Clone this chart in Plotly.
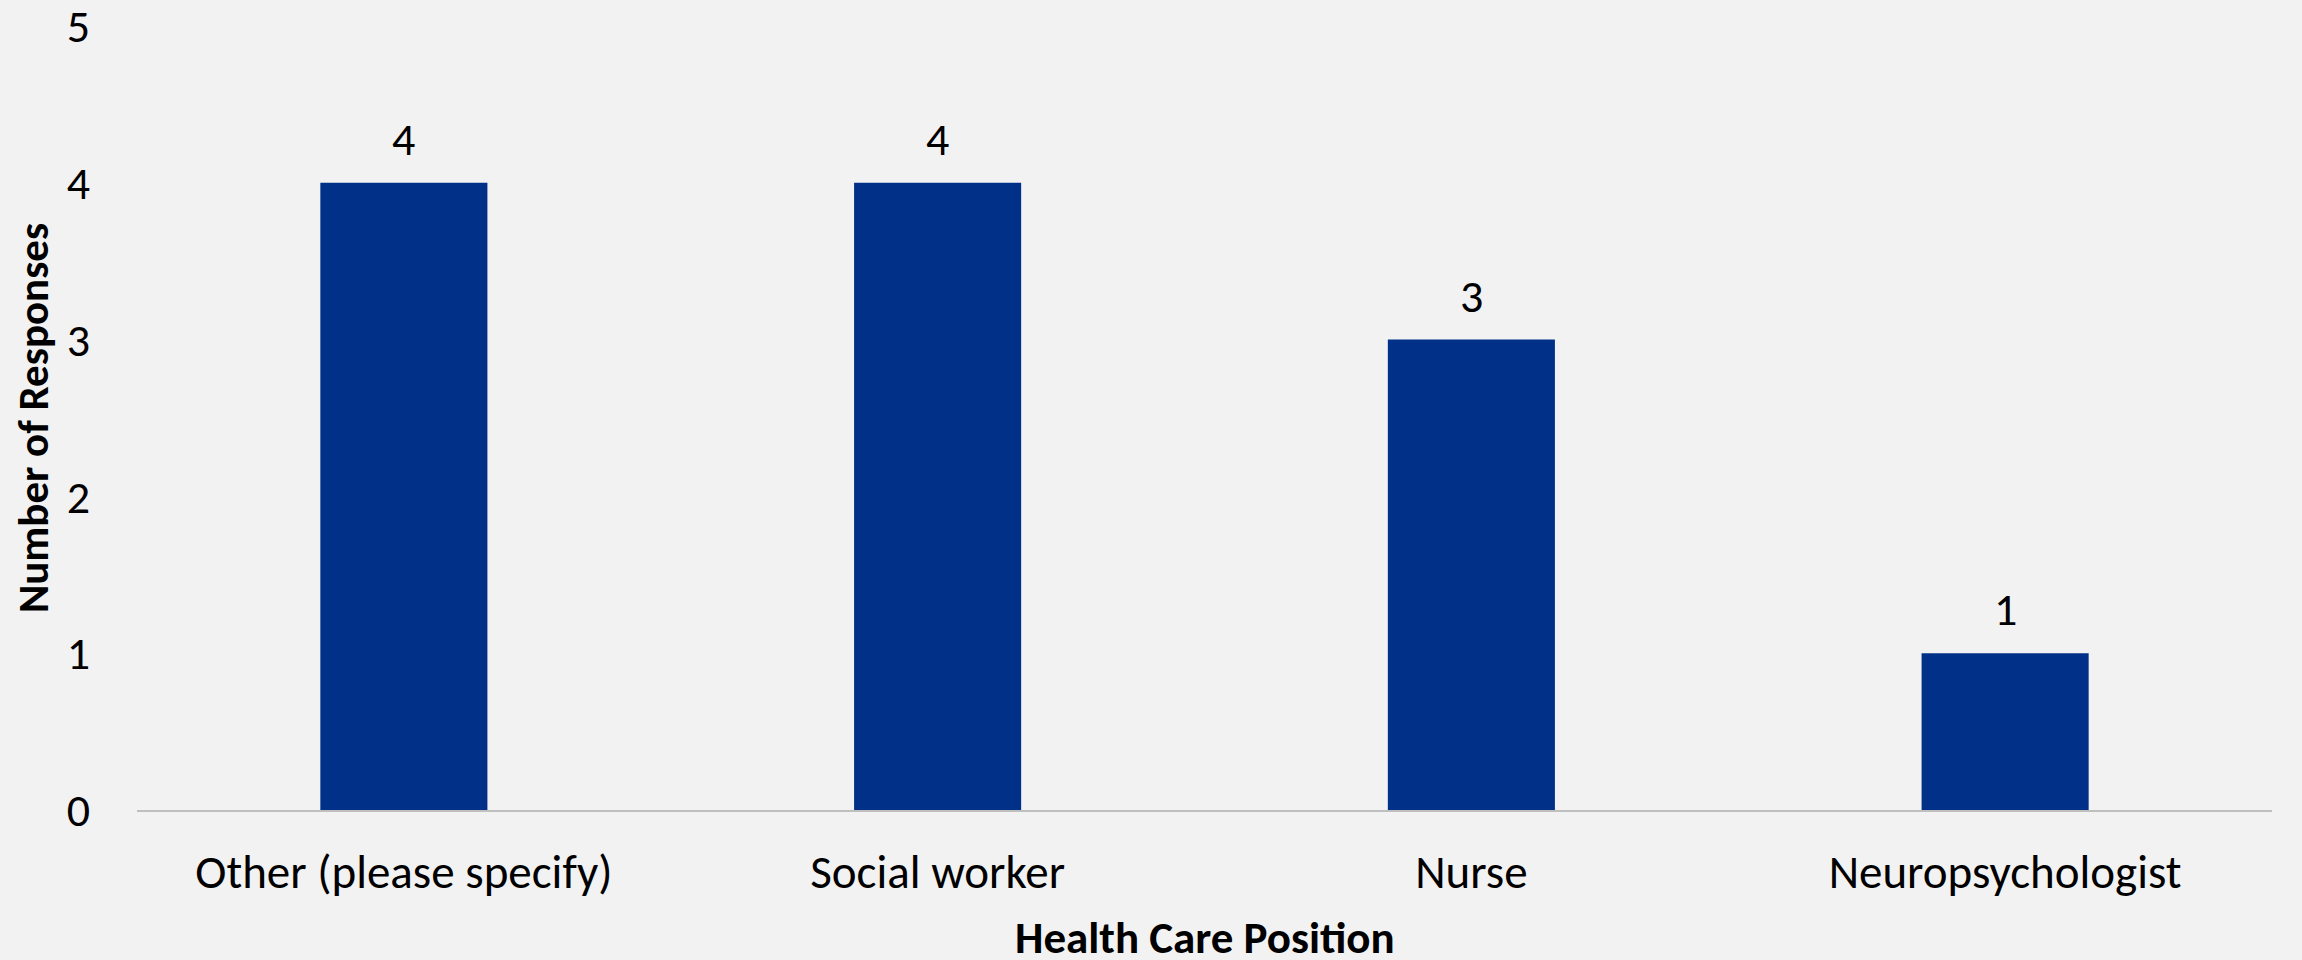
import plotly.graph_objects as go

categories = ["Other (please specify)", "Social worker", "Nurse", "Neuropsychologist"]
responses = [4, 4, 3, 1]
y_ticks = [0, 1, 2, 3, 4, 5]

FONT = "Carlito, Calibri, Lato, sans-serif"
BAR = "#003087"
BG = "#F2F2F2"

fig = go.Figure()
fig.add_trace(go.Bar(
    x=categories, y=responses,
    marker=dict(color=BAR, line=dict(width=0)),
    hoverinfo="x+y",
))

for c, v in zip(categories, responses):
    fig.add_annotation(x=c, y=v, text=str(v), showarrow=False,
                       yanchor="bottom", yshift=14,
                       font=dict(family=FONT, size=46, color="#000000"))

fig.add_annotation(xref="paper", yref="paper", x=0.5, y=-0.163,
                   text="<b>Health Care Position</b>", showarrow=False,
                   xanchor="center", yanchor="middle",
                   font=dict(family=FONT, size=45, color="#000000"))
fig.add_annotation(xref="paper", yref="paper", x=-0.0487, y=0.5,
                   text="<b>Number of Responses</b>", showarrow=False,
                   textangle=-90, xanchor="center", yanchor="middle",
                   font=dict(family=FONT, size=43, color="#000000"))

fig.update_layout(
    width=2302, height=960,
    margin=dict(l=137, r=30, t=26, b=150, autoexpand=False),
    paper_bgcolor=BG, plot_bgcolor=BG,
    bargap=0.687,
    showlegend=False,
    font=dict(family=FONT, color="#000000"),
)
fig.update_xaxes(
    showline=True, linecolor="#BFBFBF", linewidth=2,
    showgrid=False, ticks="", zeroline=False, automargin=False,
    tickfont=dict(family=FONT, size=47, color="#000000"),
    ticklabelstandoff=20, ticklabeloverflow="allow",
)
fig.update_yaxes(
    range=[0, 5], tickvals=y_ticks, showgrid=False, zeroline=False,
    showline=False, ticks="", automargin=False,
    tickfont=dict(family=FONT, size=46, color="#000000"),
    ticklabelstandoff=46, ticklabeloverflow="allow",
)

fig.write_html(
    "out.html",
    config={"displayModeBar": False},
    post_script="document.body.style.margin='0';document.body.style.background='#F2F2F2';document.body.style.overflow='hidden';",
)
